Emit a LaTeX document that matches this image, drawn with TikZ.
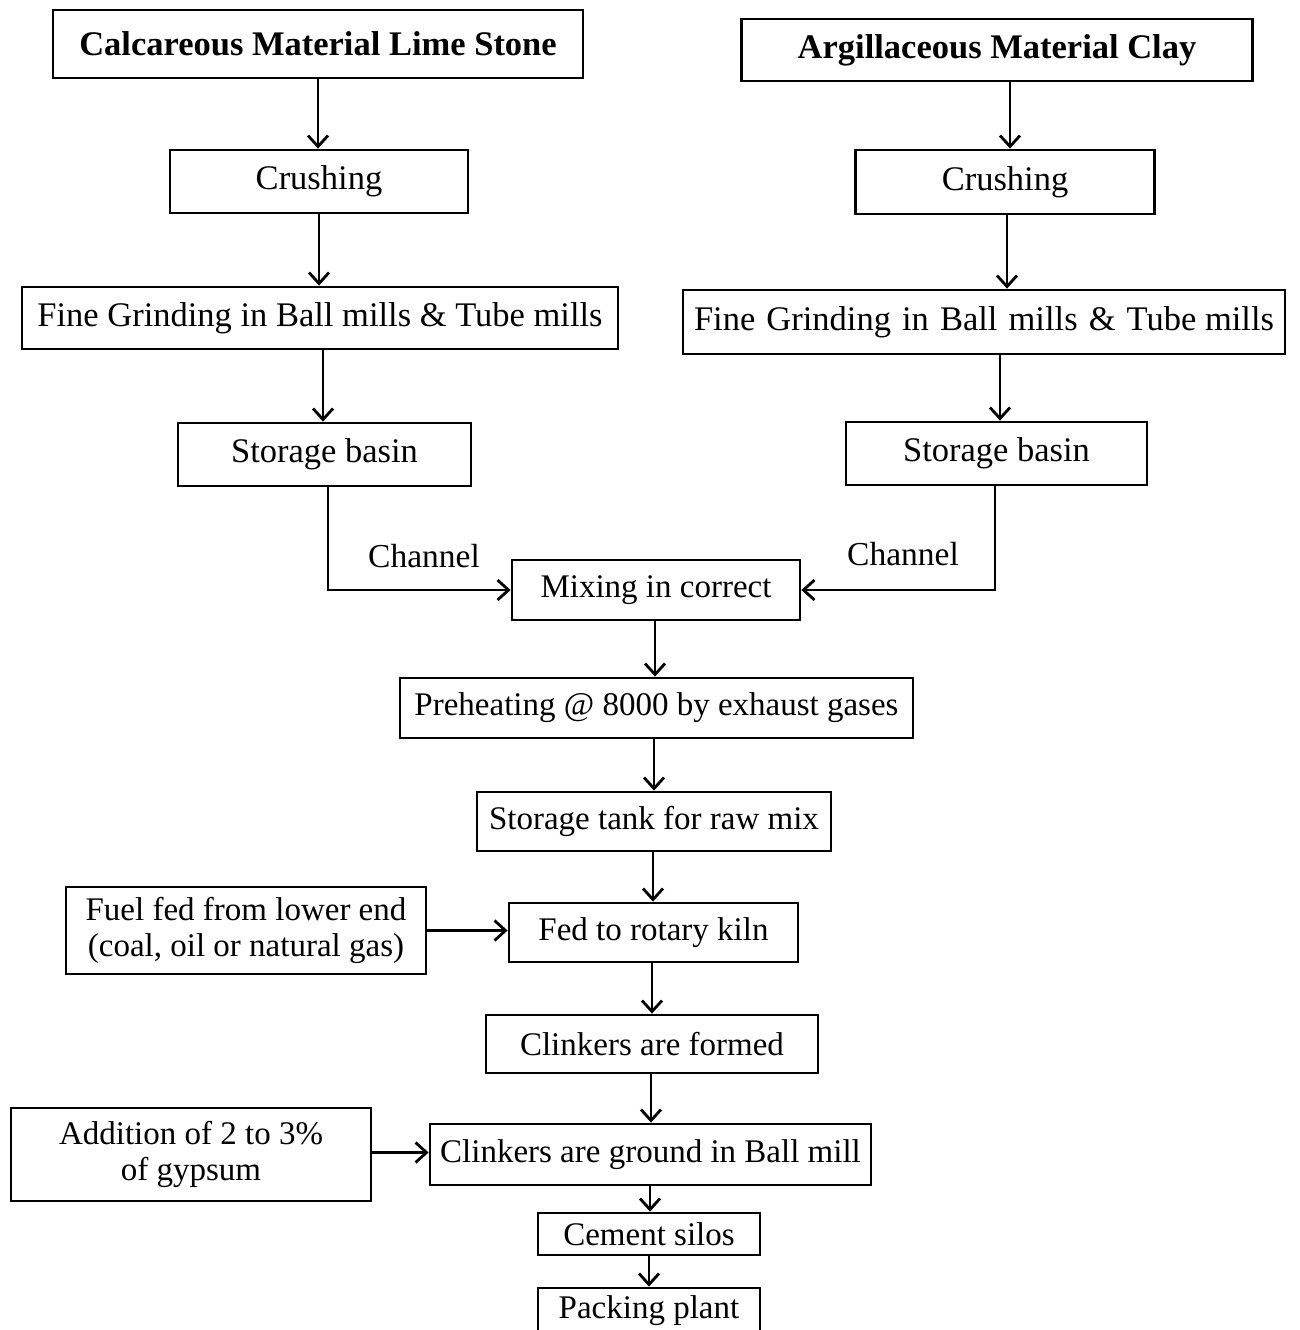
\documentclass[tikz,border=0pt]{standalone}
\usepackage{fontspec}
\setmainfont{Liberation Serif}
\usetikzlibrary{arrows.meta}
\begin{document}
\begin{tikzpicture}[x=1pt,y=-1pt,
  box/.style={draw, line width=2.8pt, inner sep=0pt, align=center,
    font=\fontsize{33}{36}\selectfont},
  bigbox/.style={box, font=\fontsize{34.5}{36}\selectfont},
  topbox/.style={box, font=\fontsize{34.5}{36}\selectfont\bfseries},
  arr/.style={line width=2.8pt, -{Straight Barb[length=11pt,width=20pt]}},
  lbl/.style={inner sep=0pt, font=\fontsize{33.5}{36}\selectfont}]
\fill[white] (0,0) rectangle (1300,1330);
\useasboundingbox (0,0) rectangle (1300,1330);
% left column
\node[topbox, minimum width=530, minimum height=68] (top1) at (318,44) {Calcareous Material Lime Stone};
\node[bigbox, minimum width=298, minimum height=63] (crush1) at (319,181.5) {Crushing};
\node[bigbox, minimum width=596, minimum height=62] (fg1) at (320,318) {Fine Grinding in Ball mills \& Tube mills};
\node[bigbox, minimum width=293, minimum height=63] (sb1) at (324.5,454.5) {Storage basin};
% right column
\node[topbox, minimum width=511, minimum height=62] (top2) at (997,50) {Argillaceous Material Clay};
\node[bigbox, minimum width=299, minimum height=64] (crush2) at (1005,182) {Crushing};
\node[bigbox, minimum width=602, minimum height=64] (fg2) at (984,322) {\hbox to 580pt{Fine\hfill Grinding\hfill in\hfill Ball\hfill mills\hfill \&\hfill Tube mills}};
\node[bigbox, minimum width=301, minimum height=63] (sb2) at (996.5,453.5) {Storage basin};
% centre chain
\node[box, minimum width=288, minimum height=60] (mix) at (656,590) {Mixing in correct};
\node[box, minimum width=513, minimum height=60] (pre) at (656.5,708) {Preheating @ 8000 by exhaust gases};
\node[box, minimum width=354, minimum height=59] (tank) at (654,821.5) {Storage tank for raw mix};
\node[box, minimum width=289, minimum height=59] (kiln) at (653.5,932.5) {Fed to rotary kiln};
\node[box, minimum width=332, minimum height=58] (clf) at (652,1044) {Clinkers are formed};
\node[box, minimum width=441, minimum height=61] (grnd) at (650.5,1154.5) {Clinkers are ground in Ball mill};
\node[box, minimum width=222, minimum height=42] (silo) at (649,1234) {Cement silos};
\node[box, minimum width=222, minimum height=46] (pack) at (649,1311) {Packing plant};
% side inputs
\node[box, minimum width=360, minimum height=87] (fuel) at (246,930.5) {Fuel fed from lower end\\(coal, oil or natural gas)};
\node[box, minimum width=360, minimum height=93] (gyp) at (191,1154.5) {Addition of 2 to 3\%\\of gypsum};
% labels
\node[lbl] (ch1) at (424,556) {Channel};
\node[lbl] (ch2) at (903,554) {Channel};
% helper x positions for connectors
\coordinate (l3) at (323,0);
\coordinate (l4) at (328,0);
\coordinate (r1) at (1010,0);
\coordinate (r2) at (1007,0);
\coordinate (r3) at (1000,0);
\coordinate (r4) at (995,0);
\coordinate (c1) at (655,0);
\coordinate (c2) at (654,0);
\coordinate (c3) at (653,0);
\coordinate (c4) at (652,0);
\coordinate (c5) at (651,0);
\coordinate (c6) at (650,0);
\coordinate (c7) at (649,0);
% left column arrows
\draw[arr] (top1.south) -- (top1.south |- crush1.north);
\draw[arr] (crush1.south) -- (crush1.south |- fg1.north);
\draw[arr] (fg1.south -| l3) -- (sb1.north -| l3);
\draw[arr] (sb1.south -| l4) |- (mix.west);
% right column arrows
\draw[arr] (top2.south -| r1) -- (crush2.north -| r1);
\draw[arr] (crush2.south -| r2) -- (fg2.north -| r2);
\draw[arr] (fg2.south -| r3) -- (sb2.north -| r3);
\draw[arr] (sb2.south -| r4) |- (mix.east);
% centre chain arrows
\draw[arr] (mix.south -| c1) -- (pre.north -| c1);
\draw[arr] (pre.south -| c2) -- (tank.north -| c2);
\draw[arr] (tank.south -| c3) -- (kiln.north -| c3);
\draw[arr] (kiln.south -| c4) -- (clf.north -| c4);
\draw[arr] (clf.south -| c5) -- (grnd.north -| c5);
\draw[arr] (grnd.south -| c6) -- (silo.north -| c6);
\draw[arr] (silo.south -| c7) -- (pack.north -| c7);
% side arrows
\draw[arr] (fuel.east) -- (fuel.east -| kiln.west);
\draw[arr] ([yshift=2pt]gyp.east) -- ([yshift=2pt]gyp.east -| grnd.west);
\end{tikzpicture}
\end{document}
